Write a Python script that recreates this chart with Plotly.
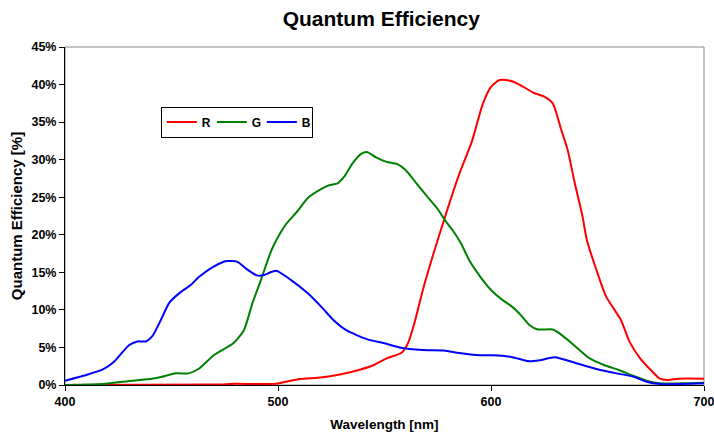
import plotly.graph_objects as go

# Wavelength [nm] and quantum efficiency [%]
r_wl = [400, 470, 480, 499, 510, 520, 529, 538, 545, 551, 558, 561, 564, 568, 573, 579, 585,
        591, 596, 600, 604, 609, 614, 620, 625, 629, 633, 636, 639, 643, 645, 650, 654, 661,
        665, 670, 675, 679, 683, 688, 700]
r_qe = [0.0, 0.05, 0.15, 0.17, 0.8, 1.0, 1.4, 2.0, 2.66, 3.55, 4.3, 5.55, 8.2, 12.65, 17.5,
        22.9, 28.0, 32.4, 37.3, 39.7, 40.6, 40.5, 39.9, 38.9, 38.4, 37.5, 33.95, 31.3, 27.3,
        22.4, 19.3, 14.9, 11.8, 8.65, 5.77, 3.55, 2.0, 0.89, 0.67, 0.84, 0.84]

g_wl = [400, 418, 427, 440, 445, 452, 458, 463, 470, 479, 484, 488, 492, 497, 501, 504, 509,
        514, 520, 524, 528, 531, 535, 539, 542, 546, 551, 556, 560, 565, 570, 575, 579, 582,
        586, 590, 595, 600, 605, 610, 614, 618, 622, 629, 632, 639, 646, 653, 660, 667, 673,
        679, 689, 700]
g_qe = [0.0, 0.13, 0.44, 0.8, 1.06, 1.55, 1.55, 2.2, 4.0, 5.55, 7.3, 10.9, 14.0, 18.0, 20.2,
        21.5, 23.1, 24.9, 26.05, 26.6, 26.85, 27.7, 29.5, 30.76, 31.0, 30.3, 29.7, 29.4, 28.6,
        26.85, 25.1, 23.4, 21.7, 20.6, 18.8, 16.5, 14.4, 12.65, 11.4, 10.4, 9.3, 8.0, 7.4,
        7.4, 6.9, 5.3, 3.6, 2.66, 2.0, 1.2, 0.57, 0.22, 0.22, 0.3]

b_wl = [400, 410, 418, 423, 430, 434, 438, 441, 445, 449, 454, 459, 463, 470, 476, 481, 485,
        490, 493, 499, 506, 514, 521, 526, 532, 542, 550, 557, 568, 578, 585, 595, 601, 610,
        618, 623, 630, 640, 650, 659, 667, 673, 681, 689, 700]
b_qe = [0.57, 1.33, 2.1, 3.1, 5.3, 5.8, 5.8, 6.5, 8.65, 10.96, 12.3, 13.3, 14.4, 15.8, 16.5,
        16.4, 15.5, 14.6, 14.6, 15.2, 14.0, 12.2, 10.2, 8.65, 7.3, 6.08, 5.55, 5.0, 4.66, 4.6,
        4.25, 3.95, 3.95, 3.7, 3.15, 3.3, 3.7, 2.9, 2.1, 1.55, 1.1, 0.44, 0.1, 0.13, 0.22]

series_names = ["R", "G", "B"]
series_colors = ["#ff0000", "#008000", "#0000ff"]

x_ticks = [400, 500, 600, 700]
y_ticks = [0, 5, 10, 15, 20, 25, 30, 35, 40, 45]

font_family = "Liberation Sans, Arial, sans-serif"

fig = go.Figure()
for name, wl, qe, col in zip(series_names, [r_wl, g_wl, b_wl], [r_qe, g_qe, b_qe], series_colors):
    fig.add_trace(go.Scatter(x=wl, y=qe, name="<b>" + name + "</b>", mode="lines",
                             line=dict(color=col, width=2, shape="spline", smoothing=0.6)))

fig.update_layout(
    width=714, height=437,
    margin=dict(l=65, r=10, t=47, b=52),
    paper_bgcolor="white", plot_bgcolor="white",
    font=dict(family=font_family, color="black", size=12),
    title=dict(text="<b>Quantum Efficiency</b>", x=0.534, xanchor="center",
               y=0.958, yanchor="middle", font=dict(size=21, family=font_family)),
    showlegend=True,
    legend=dict(orientation="h", x=0.150, y=0.778, xanchor="left", yanchor="middle",
                bgcolor="white", bordercolor="black", borderwidth=1,
                font=dict(size=12, family=font_family, color="black"),
                itemwidth=30, entrywidth=5, entrywidthmode="pixels",
                tracegroupgap=0, traceorder="normal"),
    shapes=[dict(type="rect", xref="paper", yref="paper", x0=0, y0=0, x1=1, y1=1,
                 line=dict(color="#888888", width=1), layer="below")],
)

fig.update_xaxes(range=[400, 700], tickvals=x_ticks, ticktext=["<b>%d</b>" % v for v in x_ticks],
                 showgrid=False, zeroline=False, showline=True, linecolor="black", linewidth=1,
                 ticks="outside", ticklen=5, tickcolor="black", automargin=False,
                 ticklabeloverflow="allow", tickfont=dict(size=12.5),
                 title=dict(text="<b>Wavelength [nm]</b>", font=dict(size=13.5), standoff=11))
fig.update_yaxes(range=[0, 45], tickvals=y_ticks, ticktext=["<b>%d%%</b>" % v for v in y_ticks],
                 showgrid=False, zeroline=False, showline=True, linecolor="black", linewidth=1,
                 ticks="outside", ticklen=5, tickcolor="black", automargin=False,
                 ticklabeloverflow="allow", tickfont=dict(size=12.5),
                 title=dict(text="<b>Quantum Efficiency [%]</b>", font=dict(size=15), standoff=5))

fig.write_html("out.html", config={"displayModeBar": False},
               post_script="document.body.style.margin='0';document.body.style.overflow='hidden';")
